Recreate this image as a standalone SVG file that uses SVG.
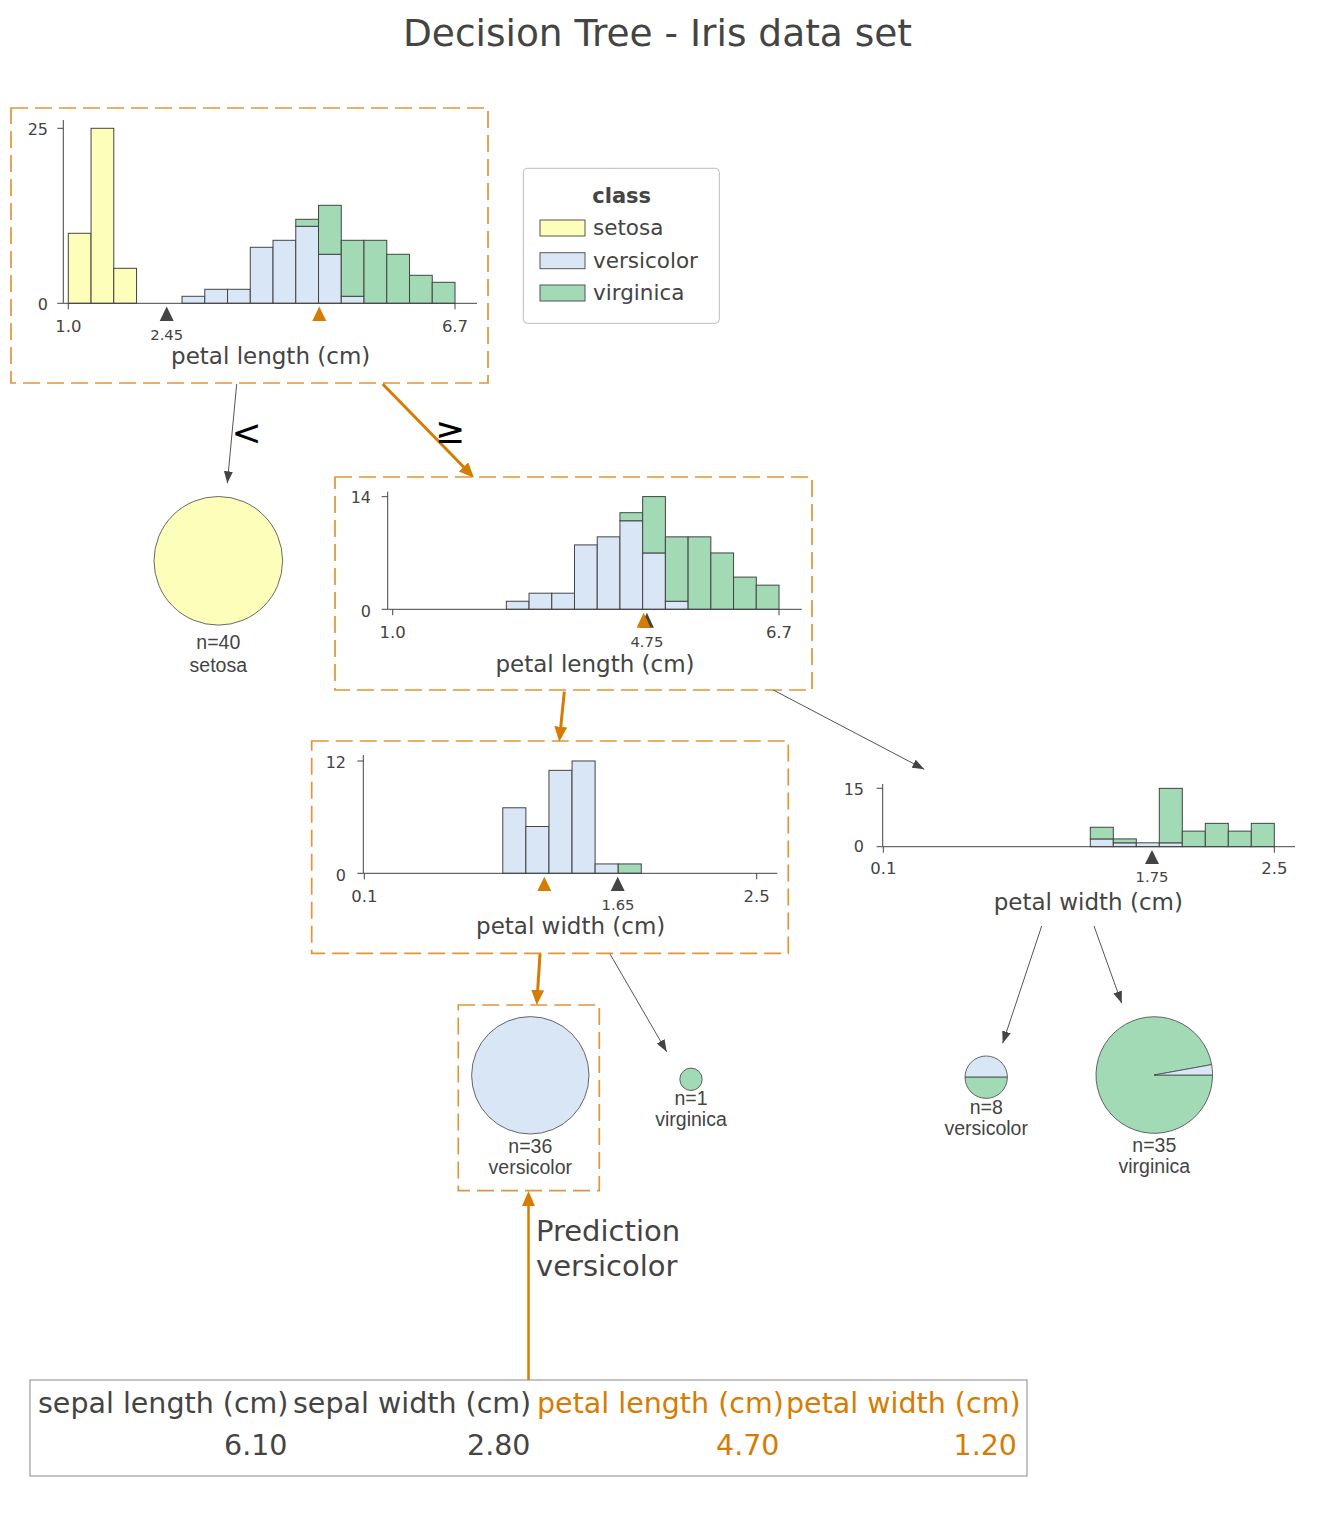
<svg xmlns="http://www.w3.org/2000/svg" width="1338" height="1520" viewBox="0 0 1338 1520">
<style>
.t{font-family:"DejaVu Sans",sans-serif;fill:#444443}
.a{font-family:"Liberation Sans",Arial,sans-serif;fill:#444443;font-size:19.5px;text-anchor:middle}
.ty{font-size:16px;text-anchor:end}
.tx{font-size:16.5px;text-anchor:middle}
.sp{font-size:14.8px;text-anchor:middle}
.axl{font-size:23px;text-anchor:middle}
.bar{stroke:#444443;stroke-width:1}
.se{fill:#FEFEBB}.ve{fill:#D9E6F5}.vi{fill:#A1DAB4}
.ax{stroke:#444443;stroke-width:1;fill:none}
.box{fill:none;stroke:#E0953A;stroke-width:1.7;stroke-dasharray:17 7}
.eg{stroke:#555;stroke-width:1;fill:none;marker-end:url(#ag)}
.eo{stroke:#D67C03;stroke-width:3;fill:none;marker-end:url(#ao)}
.tb{fill:#444443}.to{fill:#D67C03}
.pie{stroke:#444443;stroke-width:0.8}
.hdr{font-size:28.5px}
</style>
<defs>
<marker id="ag" markerWidth="12" markerHeight="9" refX="12" refY="4.5" orient="auto" markerUnits="userSpaceOnUse"><path d="M0,0 L12,4.5 L0,9 z" fill="#444443"/></marker>
<marker id="ao" markerWidth="15" markerHeight="13" refX="11" refY="6.5" orient="auto" markerUnits="userSpaceOnUse"><path d="M0,0 L15,6.5 L0,13 z" fill="#D67C03"/></marker>
</defs>
<rect width="1338" height="1520" fill="#ffffff"/>
<text class="t" x="657.5" y="46" font-size="37.5" text-anchor="middle">Decision Tree - Iris data set</text>

<g id="node0">
<rect class="box" x="11" y="108" width="477" height="275"/>
<rect class="bar se" x="68.3" y="233.3" width="22.75" height="70"/>
<rect class="bar se" x="91.05" y="128.3" width="22.74" height="175"/>
<rect class="bar se" x="113.79" y="268.3" width="22.75" height="35"/>
<rect class="bar ve" x="182.04" y="296.3" width="22.74" height="7"/>
<rect class="bar ve" x="204.78" y="289.3" width="22.75" height="14"/>
<rect class="bar ve" x="227.53" y="289.3" width="22.75" height="14"/>
<rect class="bar ve" x="250.28" y="247.3" width="22.74" height="56"/>
<rect class="bar ve" x="273.02" y="240.3" width="22.75" height="63"/>
<rect class="bar ve" x="295.77" y="226.3" width="22.75" height="77"/>
<rect class="bar vi" x="295.77" y="219.3" width="22.75" height="7"/>
<rect class="bar ve" x="318.52" y="254.3" width="22.74" height="49"/>
<rect class="bar vi" x="318.52" y="205.3" width="22.74" height="49"/>
<rect class="bar ve" x="341.26" y="296.3" width="22.75" height="7"/>
<rect class="bar vi" x="341.26" y="240.3" width="22.75" height="56"/>
<rect class="bar vi" x="364.01" y="240.3" width="22.75" height="63"/>
<rect class="bar vi" x="386.76" y="254.3" width="22.75" height="49"/>
<rect class="bar vi" x="409.51" y="275.3" width="22.74" height="28"/>
<rect class="bar vi" x="432.25" y="282.3" width="22.75" height="21"/>
<path class="ax" d="M63.3,120 V303.3 H477 M57.3,128.3 H63.3 M57.3,303.3 H63.3 M68.3,303.3 V309.3 M455,303.3 V309.3"/>
<text class="t ty" x="48" y="135">25</text>
<text class="t ty" x="48" y="310">0</text>
<text class="t tx" x="68.3" y="332">1.0</text>
<text class="t tx" x="455" y="332">6.7</text>
<path class="tb" d="M159.7,321 L166.7,306.5 L173.7,321 Z"/>
<path class="to" d="M312.3,321 L319.3,306.5 L326.3,321 Z"/>
<text class="t sp" x="166.7" y="340">2.45</text>
<text class="t axl" x="270.7" y="364">petal length (cm)</text>
</g>

<g id="legend">
<rect x="523.3" y="168.3" width="196" height="155" rx="4" fill="#fff" stroke="#bbbbbb" stroke-width="1"/>
<text class="t" x="621.7" y="202.7" font-size="21" font-weight="bold" text-anchor="middle">class</text>
<rect class="se" x="540" y="220" width="45" height="16" stroke="#555" stroke-width="1"/>
<rect class="ve" x="540" y="252.7" width="45" height="16" stroke="#555" stroke-width="1"/>
<rect class="vi" x="540" y="285" width="45" height="16" stroke="#555" stroke-width="1"/>
<text class="t" x="593" y="235" font-size="21.5">setosa</text>
<text class="t" x="593" y="268.3" font-size="21.5">versicolor</text>
<text class="t" x="593" y="300" font-size="21.5">virginica</text>
</g>

<g id="leaf1">
<circle class="pie se" cx="218.3" cy="560.8" r="64.3"/>
<text class="a" x="218.3" y="649">n=40</text>
<text class="a" x="218.3" y="671.7">setosa</text>
</g>

<g id="node2">
<rect class="box" x="335" y="477" width="477" height="213"/>
<rect class="bar ve" x="506.32" y="601.25" width="22.72" height="8.05"/>
<rect class="bar ve" x="529.04" y="593.2" width="22.73" height="16.1"/>
<rect class="bar ve" x="551.77" y="593.2" width="22.72" height="16.1"/>
<rect class="bar ve" x="574.49" y="544.9" width="22.73" height="64.4"/>
<rect class="bar ve" x="597.22" y="536.85" width="22.72" height="72.45"/>
<rect class="bar ve" x="619.94" y="520.75" width="22.72" height="88.55"/>
<rect class="bar vi" x="619.94" y="512.7" width="22.72" height="8.05"/>
<rect class="bar ve" x="642.66" y="552.95" width="22.73" height="56.35"/>
<rect class="bar vi" x="642.66" y="496.6" width="22.73" height="56.35"/>
<rect class="bar ve" x="665.39" y="601.25" width="22.72" height="8.05"/>
<rect class="bar vi" x="665.39" y="536.85" width="22.72" height="64.4"/>
<rect class="bar vi" x="688.11" y="536.85" width="22.73" height="72.45"/>
<rect class="bar vi" x="710.84" y="552.95" width="22.72" height="56.35"/>
<rect class="bar vi" x="733.56" y="577.1" width="22.72" height="32.2"/>
<rect class="bar vi" x="756.28" y="585.15" width="22.72" height="24.15"/>
<path class="ax" d="M387.7,491.7 V609.3 H801.7 M381.7,496.7 H387.7 M381.7,609.3 H387.7 M392.7,609.3 V615.3 M779,609.3 V615.3"/>
<text class="t ty" x="371" y="503.3">14</text>
<text class="t ty" x="371" y="616.7">0</text>
<text class="t tx" x="392.7" y="638.3">1.0</text>
<text class="t tx" x="779" y="638.3">6.7</text>
<path class="tb" d="M639.9,627.7 L646.9,612.7 L653.9,627.7 Z"/>
<path class="to" d="M636.6,627.7 L643.6,612.7 L650.6,627.7 Z"/>
<text class="t sp" x="646.9" y="646.7">4.75</text>
<text class="t axl" x="595" y="671.7">petal length (cm)</text>
</g>

<g id="node3">
<rect class="box" x="311.7" y="741" width="476.6" height="212.3"/>
<rect class="bar ve" x="502.79" y="807.78" width="23.08" height="65.52"/>
<rect class="bar ve" x="525.87" y="826.5" width="23.09" height="46.8"/>
<rect class="bar ve" x="548.96" y="770.34" width="23.08" height="102.96"/>
<rect class="bar ve" x="572.04" y="760.98" width="23.08" height="112.32"/>
<rect class="bar ve" x="595.12" y="863.94" width="23.08" height="9.36"/>
<rect class="bar vi" x="618.2" y="863.94" width="23.08" height="9.36"/>
<path class="ax" d="M363.3,755 V873.3 H777.3 M357.3,761 H363.3 M357.3,873.3 H363.3 M364.3,873.3 V879.3 M756.7,873.3 V879.3"/>
<text class="t ty" x="346" y="768.3">12</text>
<text class="t ty" x="346" y="880.7">0</text>
<text class="t tx" x="364.3" y="902.3">0.1</text>
<text class="t tx" x="756.7" y="902.3">2.5</text>
<path class="to" d="M537.3,891 L544.3,876.7 L551.3,891 Z"/>
<path class="tb" d="M610.7,891 L617.7,876.7 L624.7,891 Z"/>
<text class="t sp" x="618" y="910">1.65</text>
<text class="t axl" x="570.7" y="934.3">petal width (cm)</text>
</g>

<g id="node4">
<rect class="bar ve" x="1090.3" y="838.92" width="23" height="7.78"/>
<rect class="bar vi" x="1090.3" y="827.25" width="23" height="11.67"/>
<rect class="bar ve" x="1113.3" y="842.81" width="23" height="3.89"/>
<rect class="bar vi" x="1113.3" y="838.92" width="23" height="3.89"/>
<rect class="bar ve" x="1136.3" y="842.81" width="23" height="3.89"/>
<rect class="bar ve" x="1159.3" y="842.81" width="23" height="3.89"/>
<rect class="bar vi" x="1159.3" y="788.35" width="23" height="54.46"/>
<rect class="bar vi" x="1182.3" y="831.14" width="23" height="15.56"/>
<rect class="bar vi" x="1205.3" y="823.36" width="23" height="23.34"/>
<rect class="bar vi" x="1228.3" y="831.14" width="23" height="15.56"/>
<rect class="bar vi" x="1251.3" y="823.36" width="23" height="23.34"/>
<path class="ax" d="M882.7,784 V846.7 H1295 M876.7,788.3 H882.7 M876.7,846.7 H882.7 M883.3,846.7 V852.7 M1274.3,846.7 V852.7"/>
<text class="t ty" x="864" y="795">15</text>
<text class="t ty" x="864" y="851.7">0</text>
<text class="t tx" x="883.3" y="874">0.1</text>
<text class="t tx" x="1274.3" y="874">2.5</text>
<path class="tb" d="M1145,864 L1152,850 L1159,864 Z"/>
<text class="t sp" x="1152" y="881.7">1.75</text>
<text class="t axl" x="1088.3" y="910">petal width (cm)</text>
</g>

<g id="leaf_v36">
<rect class="box" x="458.3" y="1005" width="141" height="185.7"/>
<circle class="pie ve" cx="530.3" cy="1075.3" r="58.7"/>
<text class="a" x="530.3" y="1152.7">n=36</text>
<text class="a" x="530.3" y="1174">versicolor</text>
</g>

<g id="leaf_g1">
<circle class="pie vi" cx="691" cy="1079.3" r="11.2"/>
<text class="a" x="691" y="1105">n=1</text>
<text class="a" x="691" y="1125.7">virginica</text>
</g>

<g id="leaf_8">
<path class="pie ve" d="M965,1077.2 A21.2,21.2 0 0,1 1007.4,1077.2 Z"/>
<path class="pie vi" d="M965,1077.2 A21.2,21.2 0 0,0 1007.4,1077.2 Z"/>
<text class="a" x="986.2" y="1114">n=8</text>
<text class="a" x="986.2" y="1135">versicolor</text>
</g>

<g id="leaf_35">
<path class="pie vi" d="M1154.3,1075 L1212.6,1075 A58.3,58.3 0 1,1 1211.66,1064.6 Z"/>
<path class="pie ve" d="M1154.3,1075 L1211.66,1064.6 A58.3,58.3 0 0,1 1212.6,1075 Z"/>
<text class="a" x="1154.3" y="1151.7">n=35</text>
<text class="a" x="1154.3" y="1173.3">virginica</text>
</g>

<g id="edges">
<path class="eg" d="M236.7,384 L227.3,483.3"/>
<path class="eo" d="M382.7,384 L471.2,474.8"/>
<path class="eo" d="M564.3,691.7 L559.7,737.7"/>
<path class="eg" d="M773.3,690 L924.3,769.3"/>
<path class="eo" d="M540,954 L537,1001"/>
<path class="eg" d="M610,954 L666.7,1051.7"/>
<path class="eg" d="M1041.7,926 L1002.7,1043.3"/>
<path class="eg" d="M1094,926 L1121.7,1003.3"/>
<path class="eo" style="stroke-width:2.5" d="M528.5,1380 L528.5,1195"/>
<text x="246.7" y="445" font-family="DejaVu Sans,sans-serif" font-size="36" text-anchor="middle" fill="#000">&lt;</text>
<text x="450.2" y="443" font-family="DejaVu Sans,sans-serif" font-size="36" text-anchor="middle" fill="#000">≥</text>
</g>

<g id="prediction">
<text class="t" x="536" y="1240.7" font-size="29">Prediction</text>
<text class="t" x="536" y="1276" font-size="29">versicolor</text>
</g>

<g id="table">
<rect x="30" y="1380" width="997" height="96" fill="none" stroke="#888" stroke-width="1"/>
<text class="t hdr" x="38" y="1413.3">sepal length (cm)</text>
<text class="t hdr" x="293" y="1413.3">sepal width (cm)</text>
<text class="t hdr" x="537" y="1413.3" style="fill:#D67C03">petal length (cm)</text>
<text class="t hdr" x="786" y="1413.3" style="fill:#D67C03">petal width (cm)</text>
<text class="t hdr" x="287.5" y="1455" text-anchor="end">6.10</text>
<text class="t hdr" x="530.5" y="1455" text-anchor="end">2.80</text>
<text class="t hdr" x="779.5" y="1455" text-anchor="end" style="fill:#D67C03">4.70</text>
<text class="t hdr" x="1017" y="1455" text-anchor="end" style="fill:#D67C03">1.20</text>
</g>
</svg>
